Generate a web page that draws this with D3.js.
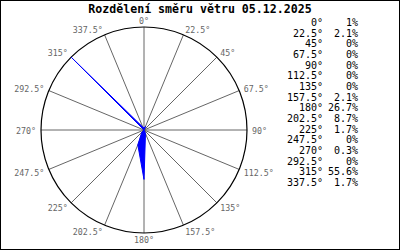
<!DOCTYPE html>
<html>
<head>
<meta charset="utf-8">
<script src="https://cdn.jsdelivr.net/npm/d3@7"></script>
<style>
  body { margin: 0; background: #fff; }
  svg { display: block; }
</style>
</head>
<body>
<script>
// wind direction data
var title = "Rozdělení směru větru 05.12.2025";
var directions = [0, 22.5, 45, 67.5, 90, 112.5, 135, 157.5, 180, 202.5, 225, 247.5, 270, 292.5, 315, 337.5];
var shares = [1, 2.1, 0, 0, 0, 0, 0, 2.1, 26.7, 8.7, 1.7, 0, 0.3, 0, 55.6, 1.7];

var width = 400, height = 250;
var cx = 144, cy = 130, R = 103;
var mono = "'DejaVu Sans Mono', monospace";

var svg = d3.select("body").append("svg")
    .attr("width", width)
    .attr("height", height);

svg.append("rect")
    .attr("x", 0.5).attr("y", 0.5)
    .attr("width", width - 1).attr("height", height - 1)
    .attr("fill", "#fff")
    .attr("stroke", "#000");

// title
svg.append("text")
    .attr("x", 200)
    .attr("y", 13)
    .attr("text-anchor", "middle")
    .attr("font-family", mono)
    .attr("font-weight", "bold")
    .attr("font-size", 11.6)
    .text(title);

var data = directions.map(function(d, i) { return {dir: d, v: shares[i]}; });

var r = d3.scaleLinear().domain([0, d3.max(shares)]).range([0, R]);
var rad = function(d) { return d * Math.PI / 180; };

var g = svg.append("g")
    .attr("transform", "translate(" + cx + "," + cy + ")");

// spokes
g.selectAll("line.spoke")
    .data(directions)
    .enter().append("line")
    .attr("class", "spoke")
    .attr("x1", 0).attr("y1", 0)
    .attr("x2", function(d) { return R * Math.sin(rad(d)); })
    .attr("y2", function(d) { return -R * Math.cos(rad(d)); })
    .attr("stroke", "#666")
    .attr("stroke-width", 1);

// outer circle
g.append("circle")
    .attr("r", R)
    .attr("fill", "none")
    .attr("stroke", "#000")
    .attr("stroke-width", 1.2);

// direction labels
g.selectAll("text.lab")
    .data(directions)
    .enter().append("text")
    .attr("class", "lab")
    .attr("x", function(d) { var s = Math.sin(rad(d)); return (R + 3) * s + s * 2; })
    .attr("y", function(d) { var c = Math.cos(rad(d)); return -(R + 3) * c - c * 3.5 + 1; })
    .attr("dy", "0.35em")
    .attr("text-anchor", function(d) {
      var s = Math.sin(rad(d));
      return s > 0.1 ? "start" : (s < -0.1 ? "end" : "middle");
    })
    .attr("font-family", mono)
    .attr("font-size", 8.3)
    .attr("fill", "#666")
    .text(function(d) { return d + "°"; });

// wind rose polygon
var area = d3.lineRadial()
    .angle(function(d) { return rad(d.dir); })
    .radius(function(d) { return r(d.v); })
    .curve(d3.curveLinearClosed);

g.append("path")
    .datum(data)
    .attr("d", area)
    .attr("fill", "#0000ff")
    .attr("stroke", "#0000ff")
    .attr("stroke-width", 1);

// table on the right
var rowY = d3.scaleLinear().domain([0, directions.length - 1]).range([22.5, 182.5]);

var rows = svg.append("g").selectAll("g.row")
    .data(data)
    .enter().append("g")
    .attr("class", "row")
    .attr("transform", function(d, i) { return "translate(0," + rowY(i) + ")"; });

rows.append("text")
    .attr("x", 323)
    .attr("dy", "0.35em")
    .attr("text-anchor", "end")
    .attr("font-family", mono)
    .attr("font-size", 10)
    .text(function(d) { return d.dir + "°"; });

rows.append("text")
    .attr("x", 358)
    .attr("dy", "0.35em")
    .attr("text-anchor", "end")
    .attr("font-family", mono)
    .attr("font-size", 10)
    .text(function(d) { return d.v + "%"; });
</script>
</body>
</html>
